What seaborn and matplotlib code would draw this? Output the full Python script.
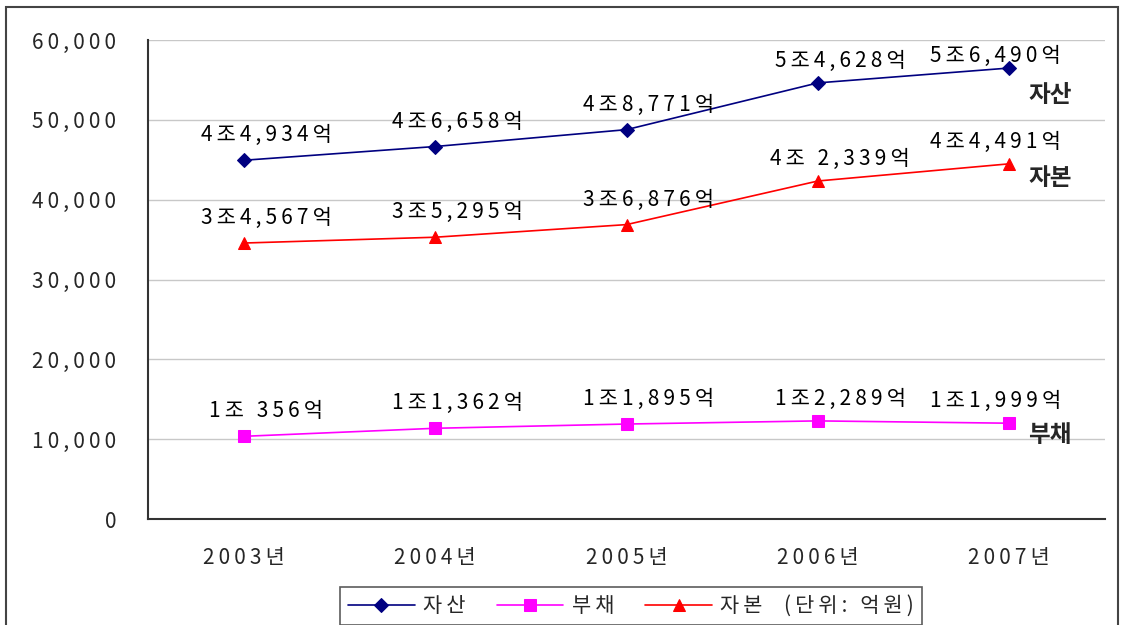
import pandas as pd
import matplotlib.pyplot as plt
import seaborn as sns
from matplotlib.patches import Rectangle

# data (unit: 억원)
years = ['2003년', '2004년', '2005년', '2006년', '2007년']
assets = [44934, 46658, 48771, 54628, 56490]
debts = [10356, 11362, 11895, 12289, 11999]
equity = [34567, 35295, 36876, 42339, 44491]

asset_labels = ['4조4,934억', '4조6,658억', '4조8,771억', '5조4,628억', '5조6,490억']
debt_labels = ['1조 356억', '1조1,362억', '1조1,895억', '1조2,289억', '1조1,999억']
equity_labels = ['3조4,567억', '3조5,295억', '3조6,876억', '4조 2,339억', '4조4,491억']

yticks = [0, 10000, 20000, 30000, 40000, 50000, 60000]

sns.set_style('white')
plt.rcParams['font.family'] = ['Noto Sans CJK KR', 'DejaVu Sans']


def spaced(s):
    # the original uses wide letter spacing
    return '\u2009'.join(s)


series = [
    ('자산', assets, asset_labels, '#000080', 'D', 7),
    ('부채', debts, debt_labels, '#FF00FF', 's', 8),
    ('자본', equity, equity_labels, '#FF0000', '^', 9),
]

fig = plt.figure(figsize=(11.22, 6.25), dpi=100)
ax = fig.add_axes([148 / 1122, 1 - 519 / 625, (1105 - 148) / 1122, (519 - 40) / 625])

xs = list(range(len(years)))
for name, vals, labels, color, marker, ms in series:
    df = pd.DataFrame({'x': xs, 'y': vals})
    sns.lineplot(data=df, x='x', y='y', ax=ax, color=color, marker=marker,
                 markersize=ms, markeredgecolor=color, linewidth=1.2,
                 label=spaced(name if name != '자본' else '자본  (단위: 억원)'))
    for x, v, lab in zip(xs, vals, labels):
        dx = 16 if x < 4 else -10
        dy = 18 if x < 3 else 16
        if name == '자산' and x == 4:
            dy = 9
        ax.annotate(spaced(lab), (x, v), xytext=(dx, dy), textcoords='offset points',
                    ha='center', va='center', fontsize=15, color='black')

# series names at the right edge
ax.text(4.1, 53100, '자산', fontsize=17, fontweight='bold', ha='left', va='center')
ax.text(4.1, 42700, '자본', fontsize=17, fontweight='bold', ha='left', va='center')
ax.text(4.1, 10500, '부채', fontsize=17, fontweight='bold', ha='left', va='center')

ax.set_xlim(-0.5, 4.5)
ax.set_ylim(0, 60000)
ax.set_yticks(yticks)
ax.set_yticklabels([spaced(f'{t:,}') for t in yticks], fontsize=15)
ax.set_xticks(xs)
ax.set_xticklabels([spaced(y) for y in years], fontsize=15)
ax.set_xticks([-0.5, 0.5, 1.5, 2.5, 3.5, 4.5], minor=True)
ax.tick_params(axis='x', which='major', length=0, pad=20)
ax.tick_params(axis='x', which='minor', length=6, width=1, color='#333333', direction='out')
ax.tick_params(axis='y', length=7, width=1, color='#333333', direction='out', pad=16)
ax.set_xlabel('')
ax.set_ylabel('')

ax.grid(axis='y', color='#c8c8c8', linewidth=1)
ax.set_axisbelow(True)
for side in ['top', 'right']:
    ax.spines[side].set_visible(False)
for side in ['left', 'bottom']:
    ax.spines[side].set_color('#333333')
    ax.spines[side].set_linewidth(1.5)

leg = ax.legend(loc='center', bbox_to_anchor=(631 / 1122, 1 - 606 / 625),
                bbox_transform=fig.transFigure, ncol=3, fontsize=15, frameon=True,
                fancybox=False, edgecolor='#333333', handlelength=3.2,
                columnspacing=1.5, handletextpad=0.4, borderpad=0.4)
leg.get_frame().set_linewidth(1.2)

# outer chart border (bottom edge runs below the image)
fig.patches.append(Rectangle((6 / 1122, -0.05), (1118 - 6) / 1122, 1.05 - 7 / 625,
                             transform=fig.transFigure, fill=False,
                             edgecolor='#444444', linewidth=1.5))

fig.savefig('out.png', dpi=100)
